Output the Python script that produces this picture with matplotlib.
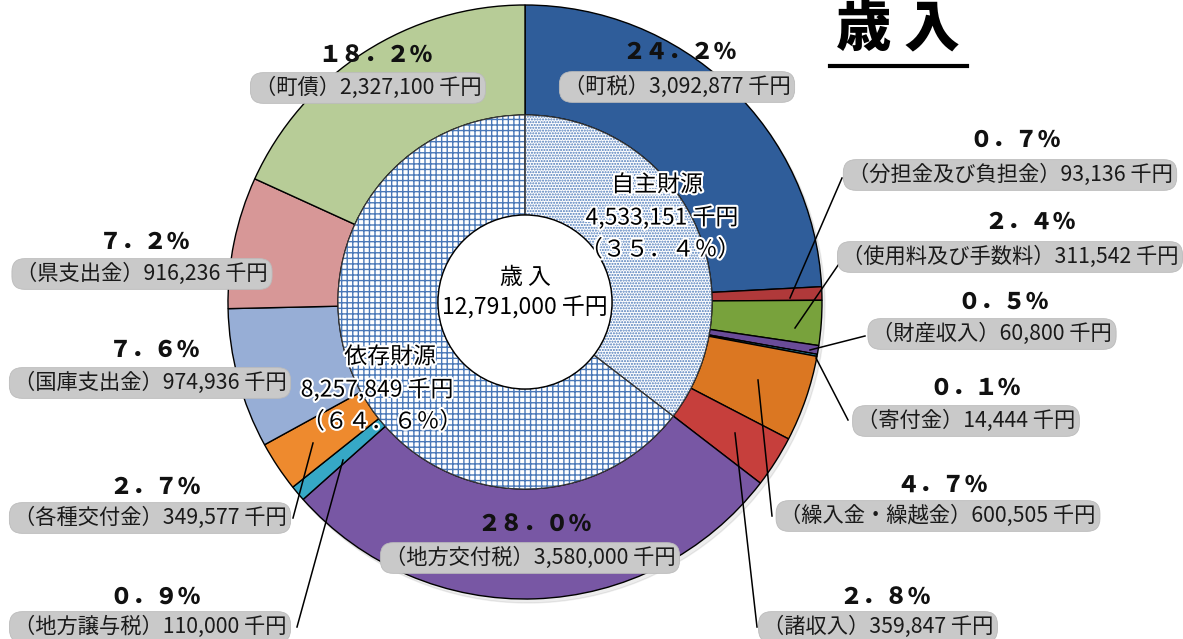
import numpy as np
import matplotlib.pyplot as plt
import matplotlib.patheffects as pe

plt.rcParams['font.family'] = ['Noto Sans CJK JP', 'DejaVu Sans']

# outer ring, clockwise from 12 o'clock
names = ['町税', '分担金及び負担金', '使用料及び手数料', '財産収入', '寄付金',
         '繰入金・繰越金', '諸収入', '地方交付税', '地方譲与税', '各種交付金',
         '国庫支出金', '県支出金', '町債']
amounts = [3092877, 93136, 311542, 60800, 14444, 600505, 359847,
           3580000, 110000, 349577, 974936, 916236, 2327100]
pct_text = ['２４．２％', '０．７％', '２．４％', '０．５％', '０．１％', '４．７％', '２．８％',
            '２８．０％', '０．９％', '２．７％', '７．６％', '７．２％', '１８．２％']
colors = ['#2F5D9A', '#B0393A', '#78A23C', '#6A4C98', '#2E9FBC', '#DB7722', '#C63F3C',
          '#7857A4', '#36A8C6', '#EE8A2E', '#97AED6', '#D79797', '#B7CC97']

# inner ring
groups = ['自主財源', '依存財源']
group_amounts = [4533151, 8257849]
group_pct = ['（３５．４％）', '（６４．６％）']
total = 12791000

W, H = 1183, 639
fig = plt.figure(figsize=(W / 100, H / 100), dpi=100)
ax = fig.add_axes([0, 0, 1, 1])

def Y(y):
    return H - y

cx, cy = 525, Y(302)
R_out, R_mid, R_in = 297, 187, 87

# faint shadow under outer ring
shadow = plt.Circle((cx + 3, cy - 4), R_out, color='#000000', alpha=0.07, zorder=0)
ax.add_patch(shadow)

ax.pie(amounts, colors=colors, center=(cx, cy), radius=R_out, startangle=90,
       counterclock=False,
       wedgeprops=dict(width=R_out - R_mid, edgecolor='black', linewidth=1.0))

plt.rcParams['hatch.linewidth'] = 1.0
inner, _ = ax.pie(group_amounts, colors=['white', 'white'], center=(cx, cy), radius=R_mid,
                  startangle=90, counterclock=False,
                  wedgeprops=dict(width=R_mid - R_in, edgecolor='#4A78B8', linewidth=0))
inner[0].set_hatch('......')
inner[1].set_hatch('+++')
ax.pie(group_amounts, colors=['none', 'none'], center=(cx, cy), radius=R_mid,
       startangle=90, counterclock=False,
       wedgeprops=dict(width=R_mid - R_in, edgecolor='#333333', linewidth=0.8, fill=False))

hole = plt.Circle((cx, cy), R_in, facecolor='white', edgecolor='black', linewidth=1.0, zorder=5)
ax.add_patch(hole)

# label layout (pixel coords): percent text, boxed text
pct_pos = [(680, 52), (1015, 140), (1030, 222), (1003, 302), (975, 388), (942, 485), (885, 597),
           (535, 524), (155, 597), (155, 487), (155, 350), (145, 242), (375, 55)]
box_pos = [(677, 87), (1010, 175), (1010, 257), (992, 334), (966, 421), (938, 516), (878, 627),
           (530, 558), (150, 627), (150, 518), (150, 383), (142, 274), (368, 88)]

for i in range(len(names)):
    px, py = pct_pos[i]
    ax.text(px, Y(py), pct_text[i], ha='center', va='center', fontsize=16.5,
            fontweight='black', color='#111111', zorder=10)
    bx, by = box_pos[i]
    ax.text(bx, Y(by), f'（{names[i]}）{amounts[i]:,} 千円', ha='center', va='center',
            fontsize=15.3, color='#1a1a1a', zorder=10,
            bbox=dict(boxstyle='round,pad=0.2,rounding_size=0.6', fc='#C9C9C9', ec='#BBBBBB', lw=0.6))

# leader lines
leaders = {
    1: [(790, 298), (842, 178)],
    2: [(795, 328), (843, 258)],
    3: [(810, 350), (865, 336)],
    4: [(816, 358), (848, 420)],
    5: [(758, 380), (772, 516)],
    6: [(735, 433), (757, 627)],
    8: [(343, 460), (297, 627)],
    9: [(313, 443), (293, 518)],
}
for k, pts in leaders.items():
    xs = [p[0] for p in pts]
    ys = [Y(p[1]) for p in pts]
    ax.plot(xs, ys, color='black', lw=1.1, zorder=8)

outline = [pe.withStroke(linewidth=3, foreground='white')]
fs_c = 16.5
ax.text(657, Y(185), groups[0], ha='center', va='center', fontsize=fs_c, zorder=9, path_effects=outline)
ax.text(662, Y(218), f'{group_amounts[0]:,} 千円', ha='center', va='center', fontsize=fs_c, zorder=9, path_effects=outline)
ax.text(660, Y(250), group_pct[0], ha='center', va='center', fontsize=fs_c, zorder=9, path_effects=outline)
ax.text(390, Y(357), groups[1], ha='center', va='center', fontsize=fs_c, zorder=9, path_effects=outline)
ax.text(377, Y(390), f'{group_amounts[1]:,} 千円', ha='center', va='center', fontsize=fs_c, zorder=9, path_effects=outline)
ax.text(382, Y(422), group_pct[1], ha='center', va='center', fontsize=fs_c, zorder=9, path_effects=outline)

ax.text(cx, Y(277), '歳 入', ha='center', va='center', fontsize=fs_c, zorder=9)
ax.text(cx, Y(308), f'{total:,} 千円', ha='center', va='center', fontsize=fs_c, zorder=9)

# title
ax.text(898, Y(30), '歳 入', ha='center', va='center', fontsize=40, fontweight='heavy', color='black')
ax.plot([830, 967], [Y(66), Y(66)], color='black', lw=3)

ax.set_xlim(0, W)
ax.set_ylim(0, H)
ax.set_aspect('equal')
ax.axis('off')
fig.savefig('out.png', dpi=100)
